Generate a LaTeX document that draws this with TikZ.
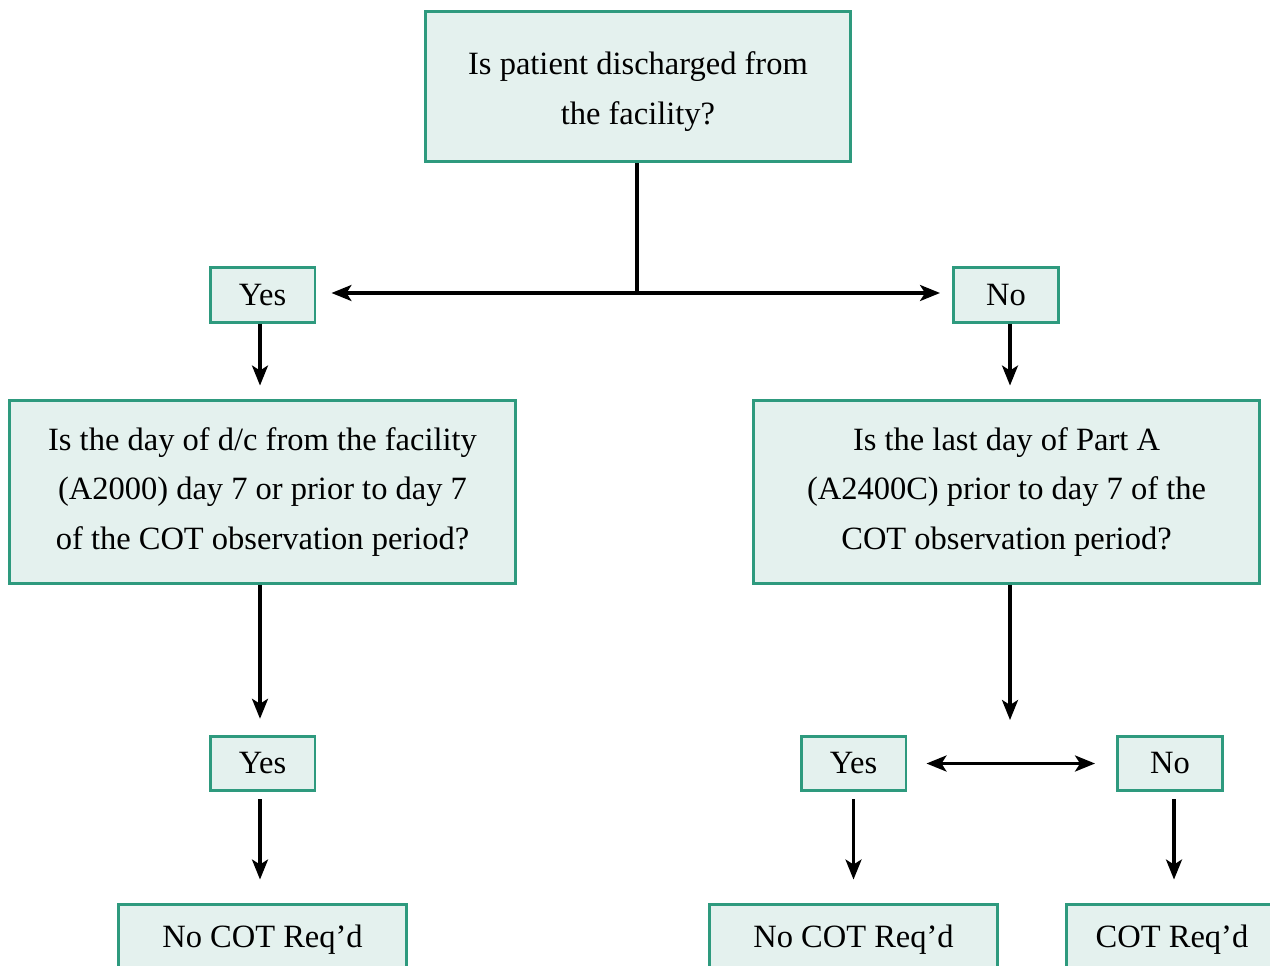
\documentclass[tikz,border=0pt]{standalone}
\usepackage{fontspec}
\setmainfont{Liberation Serif}
\usepackage{xcolor}
\usetikzlibrary{arrows.meta}
\definecolor{boxgreen}{HTML}{2E9A7E}
\definecolor{boxfill}{HTML}{E4F1EE}
\tikzset{
  box/.style={draw=boxgreen,fill=boxfill,line width=1.7pt,align=center,
    font=\fontsize{18.5}{28.45}\selectfont},
  qbox/.style={box,minimum width=10.14cm,minimum height=3.68cm},
  ansbox/.style={box,minimum width=2.1cm,minimum height=1.09cm},
  endbox/.style={box,minimum width=5.78cm,minimum height=1.44cm},
  flowtip/.tip={Stealth[length=0.4cm,width=0.32cm,inset=0.1cm]},
  arr/.style={line width=1.8pt,-flowtip},
  dblarr/.style={line width=1.8pt,flowtip-flowtip},
}
\begin{document}
\begin{tikzpicture}[x=0.02cm,y=-0.02cm]
    \clip (0,0) rectangle (1270,966);
    \node[box,minimum width=8.52cm,minimum height=3.02cm,text height=1.66cm] (top) at (638,86.5)
      {Is patient discharged from\\the facility?};
    \node[ansbox] (yes1) at (262.5,295) {Yes};
    \node[ansbox] (no1) at (1006,295) {No};
    \node[qbox] (q1) at (262.5,492)
      {Is the day of d/c from the facility\\(A2000) day 7 or prior to day 7\\of the COT observation period?};
    \node[qbox] (q2) at (1006.5,492)
      {Is the last day of Part A\\(A2400C) prior to day 7 of the\\COT observation period?};
    \node[ansbox] (yes2) at (262.5,763.5) {Yes};
    \node[ansbox] (yes3) at (853.5,763.5) {Yes};
    \node[ansbox] (no3) at (1170,763.5) {No};
    \node[endbox] (end1) at (262.5,940) {No COT Req’d};
    \node[endbox] (end2) at (853.5,940) {No COT Req’d};
    \node[endbox,minimum width=4.24cm] (end3) at (1172,940) {COT Req’d};
    % top split
    \coordinate (split) at (637,293);
    \draw[line width=1.8pt] (top.south -| split) -- (split);
    \draw[arr,shorten >=0.3cm] (split) -- (yes1.east |- split);
    \draw[arr,shorten >=0.24cm] (split) -- (no1.west |- split);
    \draw[arr,shorten >=0.26cm] (yes1.south -| 260,0) -- (q1.north -| 260,0);
    \draw[arr,shorten >=0.26cm] (no1.south -| 1010,0) -- (q2.north -| 1010,0);
    % left branch
    \draw[arr,shorten >=0.32cm] (q1.south -| 260,0) -- (yes2.north -| 260,0);
    \draw[arr,shorten <=0.14cm,shorten >=0.46cm] (yes2.south -| 260,0) -- (end1.north -| 260,0);
    % right branch
    \coordinate (splitr) at (1010,720);
    \draw[arr] (q2.south -| splitr) -- (splitr);
    \draw[dblarr,shorten <=0.38cm,shorten >=0.42cm] (yes3) -- (no3);
    \draw[arr,shorten <=0.14cm,shorten >=0.46cm] (yes3.south) -- (end2.north);
    \draw[arr,shorten <=0.14cm,shorten >=0.46cm] (no3.south -| 1174,0) -- (end3.north -| 1174,0);
\end{tikzpicture}
\end{document}
